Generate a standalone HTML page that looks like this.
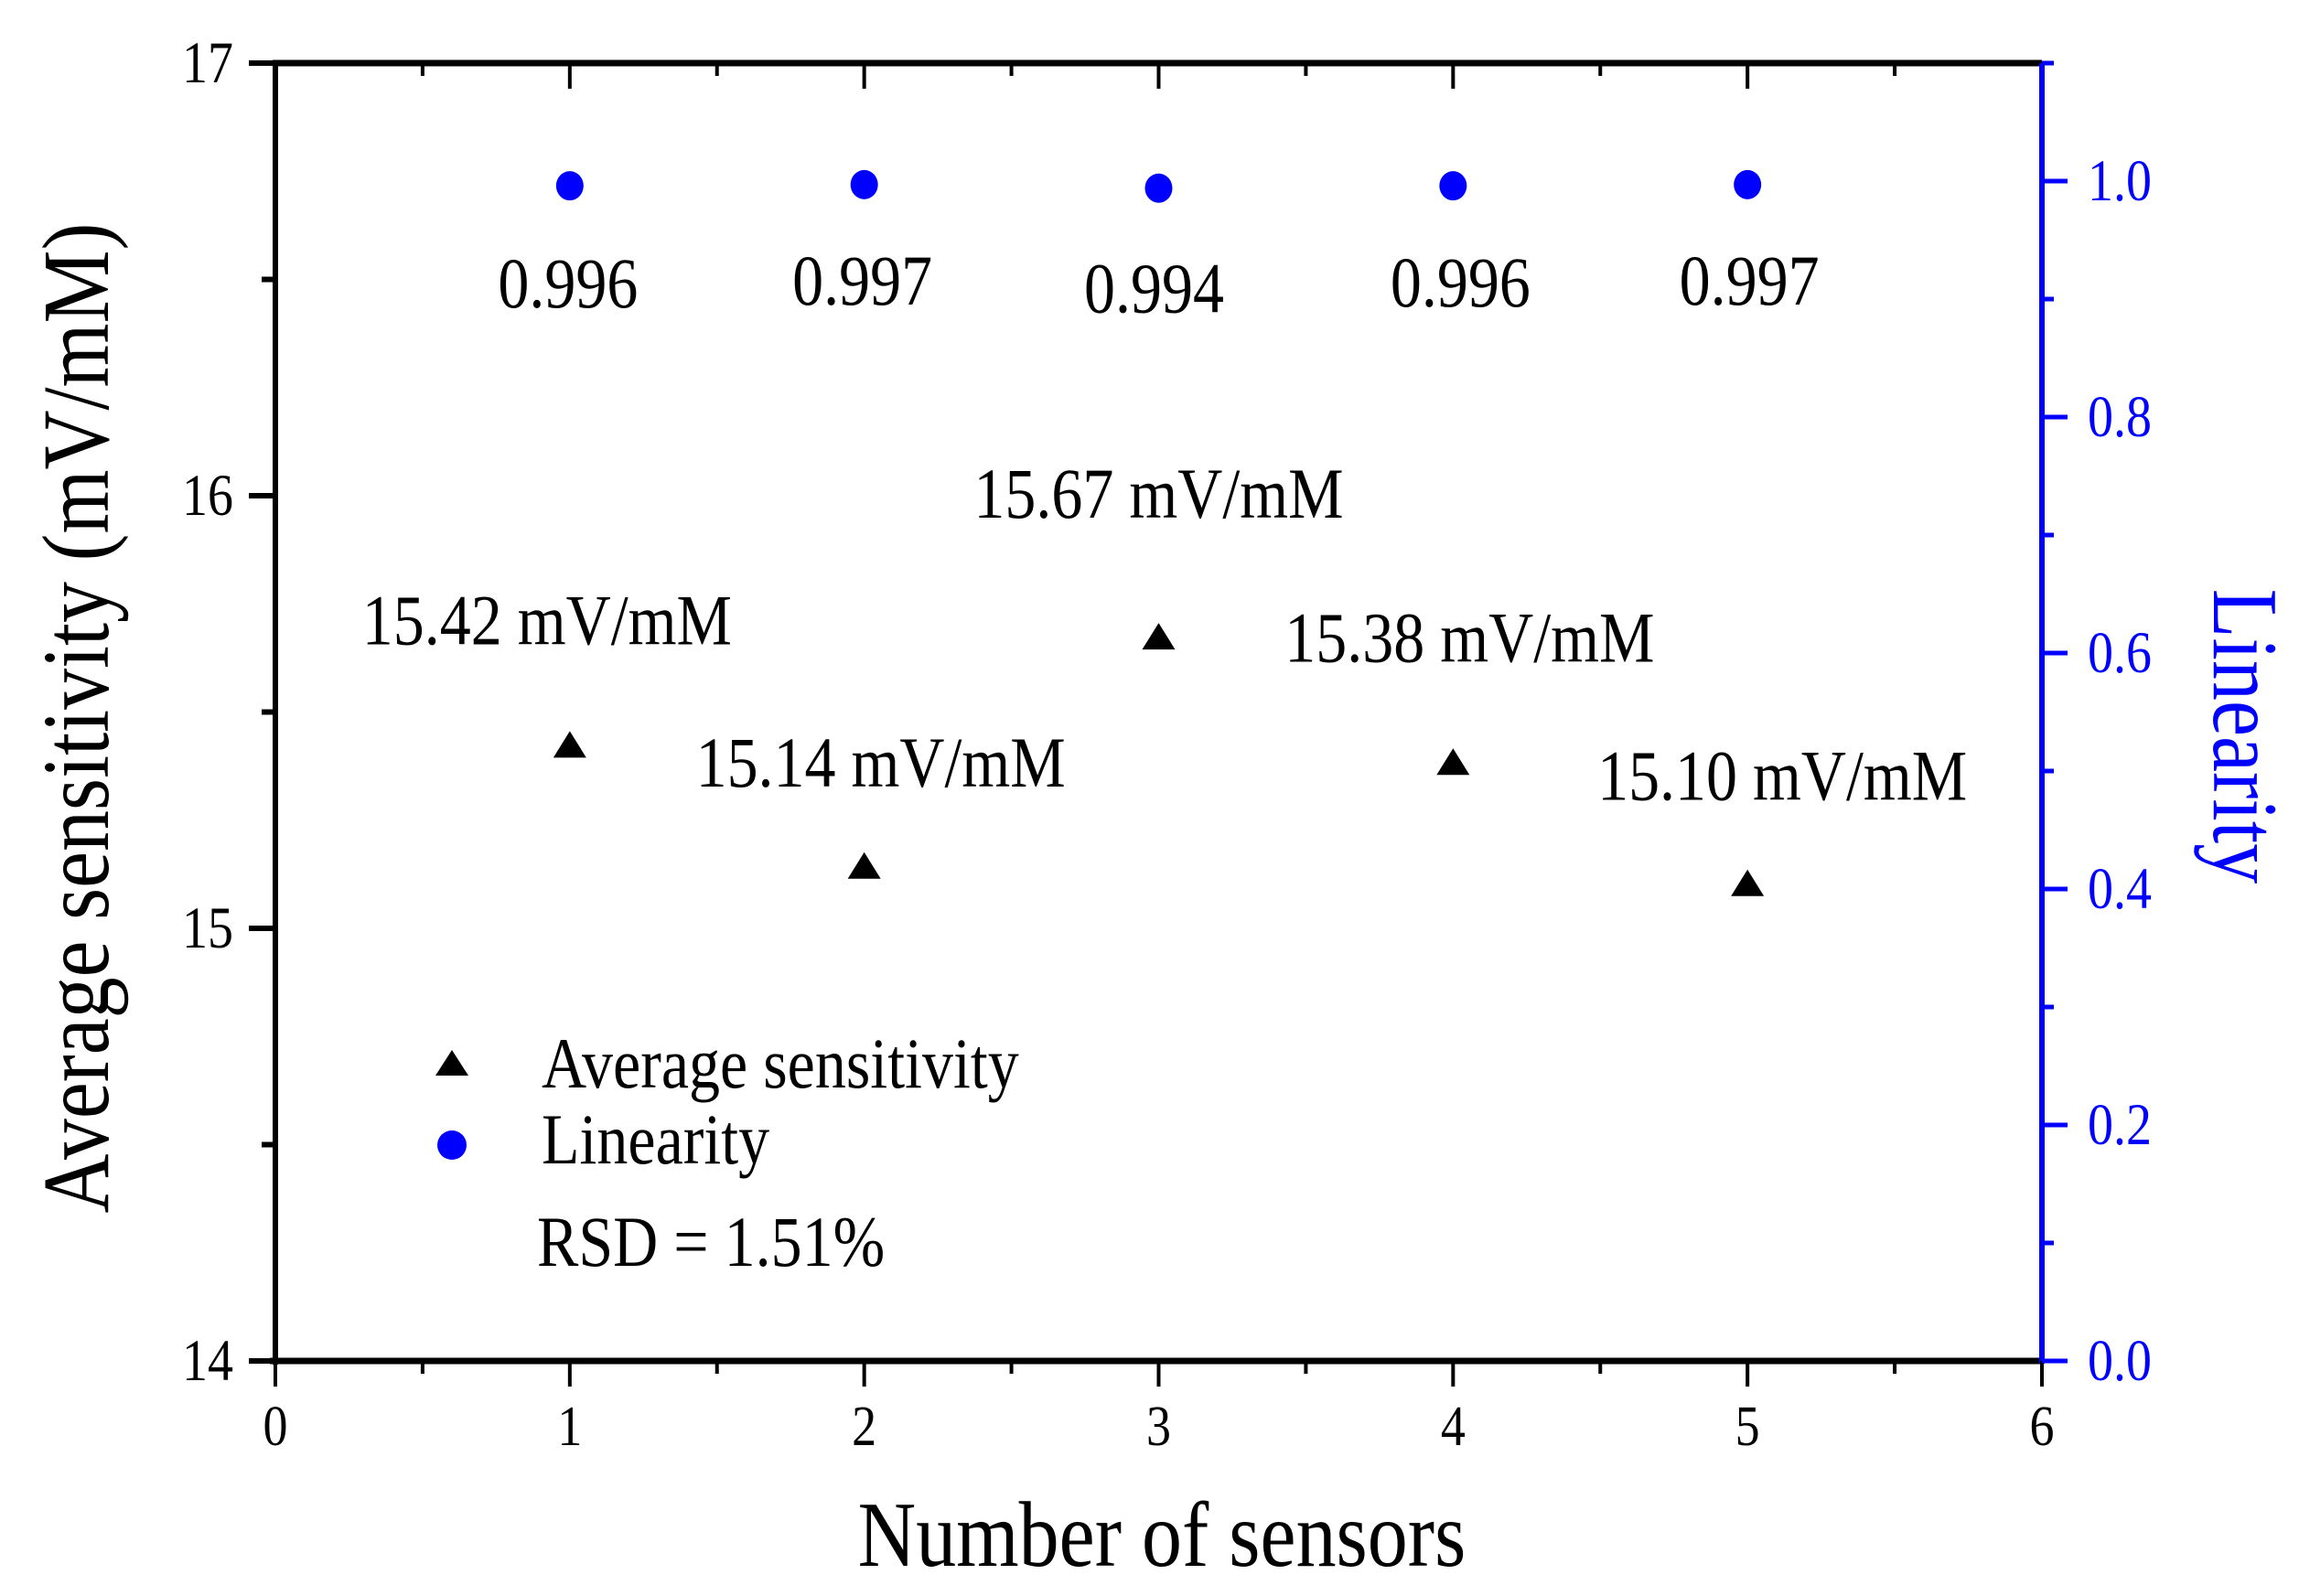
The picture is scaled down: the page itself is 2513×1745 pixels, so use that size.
<!DOCTYPE html>
<html><head><meta charset="utf-8"><style>
html,body{margin:0;padding:0;background:#fff;}
svg{display:block;font-family:"Liberation Serif",serif;}
</style></head><body>
<svg id="chart" width="2513" height="1745" viewBox="0 0 2513 1745" xmlns="http://www.w3.org/2000/svg">
<rect width="2513" height="1745" fill="#fff"/>
<g id="axes"></g>
<g id="marks"></g>
<text transform="translate(1270,1712) scale(1,1.15)" font-size="88" text-anchor="middle">Number of sensors</text>
<text transform="translate(118,785) rotate(-90) scale(1,1.15)" font-size="90" text-anchor="middle">Average sensitivity (mV/mM)</text>
<text transform="translate(2420,805) rotate(90) scale(1,1.15)" font-size="88" text-anchor="middle" fill="#0000ff">Linearity</text>
<g>
<polygon points="494,1148 512,1176 476,1176" fill="#000"/>
<text transform="translate(592,1189) scale(1,1.15)" font-size="68">Average sensitivity</text>
<ellipse cx="494" cy="1252" rx="16" ry="16" fill="#0000ff"/>
<text transform="translate(592,1272) scale(1,1.15)" font-size="68">Linearity</text>
<text transform="translate(587,1384) scale(1,1.15)" font-size="68">RSD = 1.51%</text>
</g>
</svg>
<script>
const sensors = [1, 2, 3, 4, 5];
const sensitivity = [15.42, 15.14, 15.67, 15.38, 15.10];
const linearity = [0.996, 0.997, 0.994, 0.996, 0.997];
const xTicks = [0, 1, 2, 3, 4, 5, 6];
const yTicks = [14, 15, 16, 17];
const y2Ticks = ["0.0", "0.2", "0.4", "0.6", "0.8", "1.0"];
const sensLabels = ["15.42 mV/mM", "15.14 mV/mM", "15.67 mV/mM", "15.38 mV/mM", "15.10 mV/mM"];
const linLabels = ["0.996", "0.997", "0.994", "0.996", "0.997"];

const L = 301, R = 2232, T = 69, B = 1488;
const xs = v => L + (v - 0) / 6 * (R - L);
const ys = v => B - (v - 14) / 3 * (B - T);
const y2s = v => B - v / 1.1 * (B - T);
const NS = "http://www.w3.org/2000/svg";
function mk(tag, attrs, parent) {
  const e = document.createElementNS(NS, tag);
  for (const k in attrs) e.setAttribute(k, attrs[k]);
  parent.appendChild(e);
  return e;
}
function txt(x, y, size, anchor, fill, parent) {
  return mk('text', {transform: `translate(${x},${y}) scale(1,1.15)`, 'font-size': size, 'text-anchor': anchor, fill: fill}, parent);
}
const ax = document.getElementById('axes');
const mg = document.getElementById('marks');

let e;
e = mk('line', {x1: L - 3, y1: T, x2: R, y2: T, stroke: '#000', 'stroke-width': 7}, ax);


e = mk('line', {x1: L, y1: T - 3, x2: L, y2: B + 4, stroke: '#000', 'stroke-width': 6}, ax);


e = mk('line', {x1: L - 6, y1: B, x2: R, y2: B, stroke: '#000', 'stroke-width': 7}, ax);


e = mk('line', {x1: R, y1: T, x2: R, y2: B + 3, stroke: '#0000ff', 'stroke-width': 6}, ax);



for (let i = 0; i <= 12; i++) {
  const v = i / 2, x = xs(v), major = i % 2 === 0;
  e = mk('line', {x1: x, y1: B, x2: x, y2: B + (major ? 28 : 14), stroke: '#000', 'stroke-width': 4}, ax);
  
  
  if (x > L + 5 && x < R - 5) {
    e = mk('line', {x1: x, y1: T, x2: x, y2: T + (major ? 28 : 14), stroke: '#000', 'stroke-width': 4}, ax);
    
    
  }
}
xTicks.forEach(v => {
  const t = txt(xs(v), B + 92, 54, 'middle', '#000', ax);
  t.textContent = v;
  
  
});
for (let i = 0; i <= 6; i++) {
  const v = 14 + i / 2, y = ys(v), major = i % 2 === 0;
  e = mk('line', {x1: L - (major ? 29 : 15), y1: y, x2: L, y2: y, stroke: '#000', 'stroke-width': 6}, ax);
  
  
}
yTicks.forEach(v => {
  const t = txt(255, ys(v) + 21, 56, 'end', '#000', ax);
  t.textContent = v;
  
  
});
for (let i = 0; i <= 11; i++) {
  const v = i / 10, y = y2s(v), major = i % 2 === 0;
  e = mk('line', {x1: R, y1: y, x2: R + (major ? 28 : 13), y2: y, stroke: '#0000ff', 'stroke-width': 5}, ax);
  
  
}
y2Ticks.forEach(s => {
  const t = txt(2282, y2s(parseFloat(s)) + 21, 56, 'start', '#0000ff', ax);
  t.textContent = s;
  
  
});

const sensLabelPos = [[-25, -112], [18, -89], [0, -132], [18, -112], [38, -93]];
const linLabelOff = [[-2, 133], [-2, 131], [-5, 136], [8, 132], [2, 131]];
sensors.forEach((s, i) => {
  const x = xs(s), y = ys(sensitivity[i]);
  const tri = mk('polygon', {points: `${x},${y - 17} ${x + 18},${y + 12} ${x - 18},${y + 12}`, fill: '#000'}, mg);
  
  
  const t = txt(x + sensLabelPos[i][0], y + sensLabelPos[i][1], 68, 'middle', '#000', mg);
  t.textContent = sensLabels[i];
  
  

  const cy = y2s(linearity[i]);
  const c = mk('ellipse', {cx: x, cy: cy, rx: 15, ry: 16, fill: '#0000ff'}, mg);
  
  
  const lt = txt(x + linLabelOff[i][0], cy + linLabelOff[i][1], 68, 'middle', '#000', mg);
  lt.textContent = linLabels[i];
  
  
});
</script>
</body></html>
